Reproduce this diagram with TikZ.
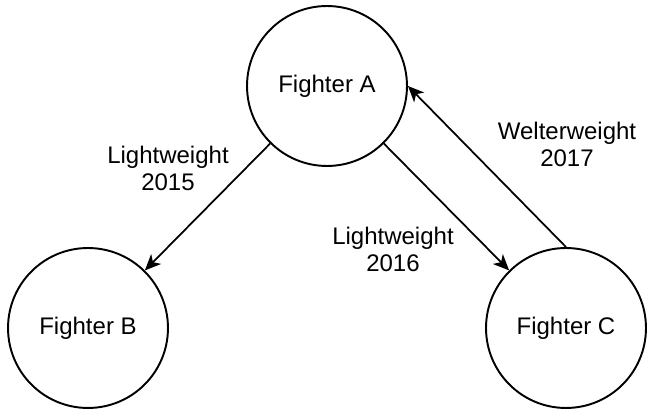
\documentclass[tikz,border=0pt]{standalone}
\usepackage{fontspec}
\setmainfont{Liberation Sans}
\usetikzlibrary{arrows.meta,positioning}

\begin{document}
\begin{tikzpicture}[x=0.02cm, y=-0.02cm,
    fighter/.style={circle, draw, line width=1.1pt, minimum size=3.2cm, inner sep=0pt},
    lbl/.style={align=center, inner sep=0pt},
    bout/.style={-{Stealth[length=3.2mm, width=2.8mm, inset=0.9mm]}, line width=1pt},
    every node/.style={font=\fontsize{13.66}{15.4}\selectfont}]
    \useasboundingbox (0,0) rectangle (670,418);

    \node[fighter] (A) at (327,86) {Fighter A};
    \node[fighter] (B) at (88,328) {Fighter B};
    \node[fighter] (C) at (566,328) {Fighter C};

    \draw[bout] (A) -- (B);
    \draw[bout] (A) -- (C);
    \draw[bout] (C.north) -- (A.east);

    \node[lbl] (lw15) at (168,168) {Lightweight\\2015};
    \node[lbl] (lw16) at (393,249) {Lightweight\\2016};
    \node[lbl] (ww17) at (567,144) {Welterweight\\2017};
\end{tikzpicture}
\end{document}
